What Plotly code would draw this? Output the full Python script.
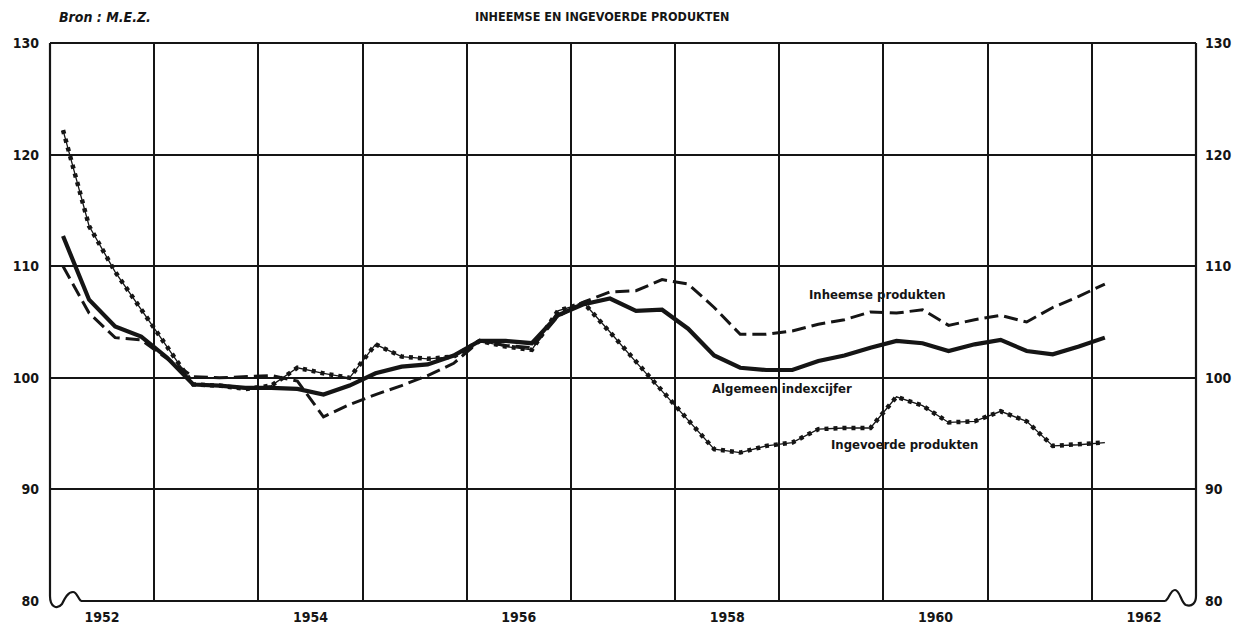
import plotly.graph_objects as go

# ---- data (quarterly index figures) ----
years = [1952, 1953, 1954, 1955, 1956, 1957, 1958, 1959, 1960, 1961, 1962]
quarters = [(y, q) for y in years[:-1] for q in (1, 2, 3, 4)] + [(1962, 1)]

algemeen = [112.7, 107.0, 104.6, 103.7, 101.8, 99.4, 99.3, 99.1, 99.1, 99.0,
            98.5, 99.3, 100.4, 101.0, 101.2, 102.0, 103.3, 103.3, 103.1, 105.6,
            106.6, 107.1, 106.0, 106.1, 104.4, 102.0, 100.9, 100.7, 100.7, 101.5,
            102.0, 102.7, 103.3, 103.1, 102.4, 103.0, 103.4, 102.4, 102.1, 102.8,
            103.6]
inheemse = [110.0, 105.8, 103.6, 103.4, 101.7, 100.1, 100.0, 100.1, 100.2, 99.7,
            96.5, 97.6, 98.5, 99.3, 100.2, 101.3, 103.3, 102.9, 102.7, 105.5,
            106.8, 107.7, 107.8, 108.8, 108.4, 106.3, 103.9, 103.9, 104.2, 104.8,
            105.2, 105.9, 105.8, 106.1, 104.7, 105.2, 105.6, 105.0, 106.3, 107.3,
            108.4]
ingevoerde = [122.2, 113.6, 109.5, 106.1, 102.8, 99.4, 99.3, 99.0, 99.3, 100.9,
              100.4, 100.0, 103.0, 101.9, 101.7, 101.9, 103.3, 102.8, 102.5, 106.0,
              106.7, 104.1, 101.4, 98.8, 96.2, 93.6, 93.3, 93.9, 94.2, 95.4,
              95.5, 95.5, 98.3, 97.5, 96.0, 96.1, 97.0, 96.1, 93.9, 94.0,
              94.2]

year_labels = ["1952", "1954", "1956", "1958", "1960", "1962"]
y_ticks = [80, 90, 100, 110, 120, 130]

title_text = "INHEEMSE EN INGEVOERDE PRODUKTEN"
source_text = "Bron : M.E.Z."

# mid-quarter positions on a decimal-year axis
t = [y + (q - 0.5) / 4 for (y, q) in quarters]

FONT = "Liberation Sans Narrow, DejaVu Sans Condensed, Arial Narrow, sans-serif"
INK = "#151515"

# figure geometry (the page body adds an 8px offset)
W, H = 1232, 619
ML, MR, MT, MB = 42, 44, 35, 26
PW, PH = W - ML - MR, H - MT - MB
OFF = 8  # body margin


def px_x(px):  # screenshot px -> paper x
    return (px - OFF - ML) / PW


def px_y(py):  # screenshot px -> paper y
    return (H - MB - (py - OFF)) / PH


def P(px, py):
    return f"{px_x(px):.5f},{px_y(py):.5f}"


fig = go.Figure()

# Inheemse produkten: dashed
fig.add_trace(go.Scatter(x=t, y=inheemse, mode="lines", yaxis="y2",
                         line=dict(color=INK, width=3, dash="14px,6px"),
                         name="Inheemse produkten", showlegend=False))
# Algemeen indexcijfer: heavy solid
fig.add_trace(go.Scatter(x=t, y=algemeen, mode="lines",
                         line=dict(color=INK, width=4.2),
                         name="Algemeen indexcijfer", showlegend=False))
# Ingevoerde produkten: beaded line (thin core + dots)
fig.add_trace(go.Scatter(x=t, y=ingevoerde, mode="lines",
                         line=dict(color=INK, width=1.3),
                         name="Ingevoerde produkten", showlegend=False))
fig.add_trace(go.Scatter(x=t, y=ingevoerde, mode="lines",
                         line=dict(color=INK, width=4.5, dash="4px,5px"),
                         name="Ingevoerde produkten", showlegend=False,
                         hoverinfo="skip"))

# ---- frame with axis-break marks (paper coordinates) ----
frame_w = 2.2
fl = dict(color=INK, width=frame_w)
shapes = [
    dict(type="line", xref="paper", yref="paper", x0=0, x1=1, y0=1, y1=1, line=fl),
    dict(type="line", xref="paper", yref="paper", x0=0, x1=0, y0=1, y1=px_y(596), line=fl),
    dict(type="line", xref="paper", yref="paper", x0=1, x1=1, y0=1, y1=px_y(596), line=fl),
    dict(type="line", xref="paper", yref="paper", x0=px_x(81), x1=px_x(1165),
         y0=0, y1=0, line=fl),
]
left_break = (f"M {P(50,596)} C {P(50,607)} {P(57,610)} {P(62,604)} "
              f"C {P(65,598)} {P(68,592)} {P(73,592)} C {P(77,592)} {P(78,599)} {P(81,601)}")
right_break = (f"M {P(1165,601)} C {P(1169,600)} {P(1170,590)} {P(1175,590)} "
               f"C {P(1180,590)} {P(1181,603)} {P(1186,605)} C {P(1192,607)} {P(1196,603)} {P(1196,596)}")
for pth in (left_break, right_break):
    shapes.append(dict(type="path", xref="paper", yref="paper", path=pth, line=fl))

tick_font = dict(family=FONT, size=14, color=INK, weight="bold")

fig.update_layout(
    width=W, height=H,
    margin=dict(l=ML, r=MR, t=MT, b=MB, autoexpand=False),
    paper_bgcolor="white", plot_bgcolor="white",
    showlegend=False,
    shapes=shapes,
    xaxis=dict(range=[1952, 1963], tickvals=[int(s) + 0.5 for s in year_labels],
               ticktext=year_labels, showgrid=False, zeroline=False, showline=False,
               ticks="", tickfont=tick_font, ticklabelstandoff=6, automargin=False,
               minor=dict(tickvals=years[1:], showgrid=True, gridcolor=INK,
                          gridwidth=1.8, ticks="")),
    yaxis=dict(range=[80, 130], tickvals=y_ticks, ticktext=[str(v) for v in y_ticks],
               showgrid=False, zeroline=False, showline=False, ticks="",
               tickfont=tick_font, ticklabelstandoff=10, automargin=False,
               minor=dict(tickvals=y_ticks[1:-1], showgrid=True, gridcolor=INK,
                          gridwidth=1.8, ticks="")),
    yaxis2=dict(range=[80, 130], overlaying="y", side="right", tickvals=y_ticks,
                ticktext=[str(v) for v in y_ticks], showgrid=False, zeroline=False,
                showline=False, ticks="", tickfont=tick_font, ticklabelstandoff=8,
                automargin=False),
    annotations=[
        dict(text=title_text, xref="paper", yref="paper", x=px_x(602),
             y=px_y(17), xanchor="center", yanchor="middle", showarrow=False,
             font=dict(family=FONT, size=12.5, color=INK, weight="bold")),
        dict(text=source_text, xref="paper", yref="paper", x=px_x(57),
             y=px_y(17), xanchor="left", yanchor="middle", showarrow=False,
             font=dict(family=FONT, size=14, color=INK, weight="bold", style="italic")),
        dict(text="Inheemse produkten", xref="x", yref="y", x=1959.94, y=107.5,
             xanchor="center", yanchor="middle", showarrow=False,
             font=dict(family=FONT, size=13, color=INK, weight="bold")),
        dict(text="Algemeen indexcijfer", xref="x", yref="y", x=1959.03, y=99.0,
             xanchor="center", yanchor="middle", showarrow=False,
             font=dict(family=FONT, size=13, color=INK, weight="bold")),
        dict(text="Ingevoerde produkten", xref="x", yref="y", x=1960.2, y=94.0,
             xanchor="center", yanchor="middle", showarrow=False,
             font=dict(family=FONT, size=13, color=INK, weight="bold")),
    ],
)

fig.write_html("out.html")
